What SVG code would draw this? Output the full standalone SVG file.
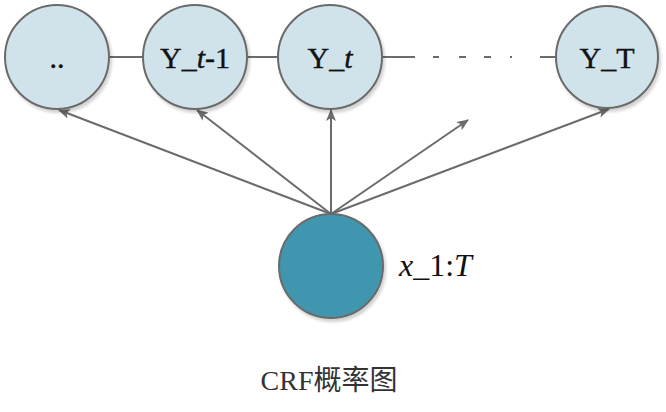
<svg xmlns="http://www.w3.org/2000/svg" width="666" height="412" viewBox="0 0 666 412">
<defs>
<marker id="ah" viewBox="0 0 12 10" refX="11" refY="5" markerWidth="12" markerHeight="10" markerUnits="userSpaceOnUse" orient="auto">
<path d="M0,0 L12,5 L0,10 L3,5 Z" fill="#6b6b6b"/>
</marker>
<filter id="sh" x="-20%" y="-20%" width="150%" height="150%">
<feGaussianBlur in="SourceAlpha" stdDeviation="1.5"/>
<feOffset dx="2" dy="3" result="b"/>
<feComponentTransfer><feFuncA type="linear" slope="0.18"/></feComponentTransfer>
<feMerge><feMergeNode/><feMergeNode in="SourceGraphic"/></feMerge>
</filter>
</defs>
<style>
.n{fill:#d1e3ea;stroke:#6b6b6b;stroke-width:2;filter:url(#sh)}
.d{fill:#4096ae;stroke:#6b6b6b;stroke-width:2;filter:url(#sh)}
.e{stroke:#6b6b6b;stroke-width:2;fill:none}
.a{stroke:#6b6b6b;stroke-width:2;fill:none;marker-end:url(#ah)}
.t{font-family:"Liberation Serif","Times New Roman",serif;font-size:30px;fill:#111;text-anchor:middle;stroke:#111;stroke-width:0.4}
</style>
<g id="connectors">
<line class="e" x1="109" y1="57" x2="143" y2="57"/>
<line class="e" x1="247" y1="57" x2="278" y2="57"/>
<line class="e" x1="383" y1="57" x2="415" y2="57"/>
<path class="e" d="M433,57 H439 M459,57 H466 M484,57 H491 M510,57 H512 M540,57 H556"/>
<line class="a" x1="331" y1="214" x2="59" y2="110"/>
<line class="a" x1="331" y1="214" x2="197" y2="110"/>
<line class="a" x1="331" y1="214" x2="331" y2="110"/>
<line class="a" x1="331" y1="214" x2="468" y2="120"/>
<line class="a" x1="331" y1="214" x2="609" y2="109"/>
</g>
<g id="node-dots">
<circle class="n" cx="57" cy="57" r="52"/>
<text class="t" x="57" y="68">..</text>
</g>
<g id="node-yt1">
<circle class="n" cx="195" cy="57" r="52"/>
<text class="t" x="195" y="68">Y_<tspan font-style="italic">t</tspan>-1</text>
</g>
<g id="node-yt">
<circle class="n" cx="330" cy="57" r="52"/>
<text class="t" x="330" y="68">Y_<tspan font-style="italic">t</tspan></text>
</g>
<g id="node-yT">
<circle class="n" cx="607" cy="57" r="51"/>
<text class="t" x="607" y="68">Y_T</text>
</g>
<g id="node-x">
<circle class="d" cx="331" cy="266" r="52"/>
<text x="399" y="276" font-family="'Liberation Serif','Times New Roman',serif" font-size="32" fill="#111"><tspan font-style="italic">x</tspan>_1:<tspan font-style="italic">T</tspan></text>
</g>
<text x="329" y="390" text-anchor="middle" font-family="'Liberation Serif','Noto Sans CJK SC',serif" font-size="28" fill="#333">CRF概率图</text>
</svg>
